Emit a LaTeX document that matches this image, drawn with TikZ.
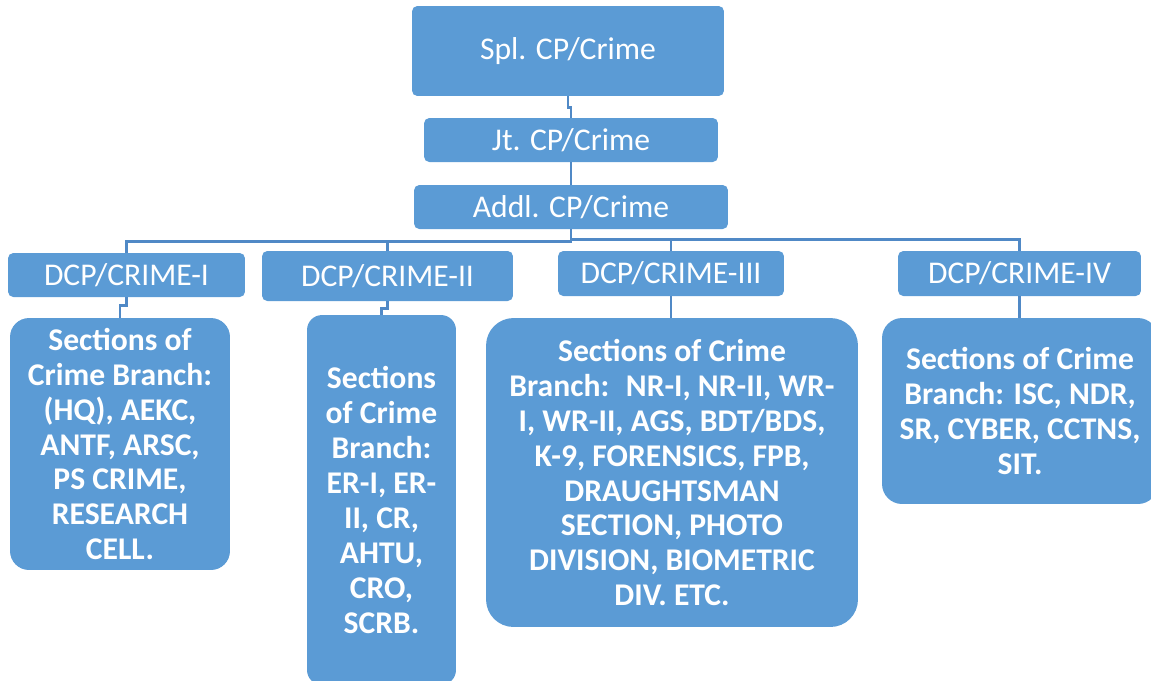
\documentclass[tikz,border=0pt]{standalone}
\usepackage{fontspec}
\setmainfont{Carlito}
\usepackage{tikz}
\usetikzlibrary{positioning,calc}

\definecolor{boxblue}{HTML}{5B9BD5}
\definecolor{lineblue}{HTML}{5089C6}

\begin{document}
\begin{tikzpicture}[x=0.02cm, y=-0.02cm,
  every node/.style={align=center, inner sep=0pt, text=white},
  box/.style={fill=boxblue, rounded corners=3pt,
    font=\fontsize{18}{21.6}\selectfont},
  sec/.style={fill=boxblue, font=\fontsize{18}{19.9}\selectfont\bfseries},
  link/.style={draw=lineblue, line width=1.4pt}]

\useasboundingbox (0,0) rectangle (1151,680);

  % top of the chain
  \node[box, minimum width=6.24cm, minimum height=1.8cm] (spl) at (568,51) {Spl. CP/Crime};
  \node[box, minimum width=5.88cm, minimum height=0.88cm] (jt) at (571,140) {Jt. CP/Crime};
  \node[box, minimum width=6.28cm, minimum height=0.88cm] (addl) at (571,207) {Addl. CP/Crime};

  % DCP row
  \node[box, minimum width=4.74cm, minimum height=0.88cm] (dcpI) at (126.5,275) {DCP/CRIME-I};
  \node[box, minimum width=5.02cm, minimum height=1.0cm] (dcpII) at (387.5,276) {DCP/CRIME-II};
  \node[box, minimum width=4.52cm, minimum height=0.9cm] (dcpIII) at (671,273.5) {DCP/CRIME-III};
  \node[box, minimum width=4.86cm, minimum height=0.9cm] (dcpIV) at (1019.5,273.5) {DCP/CRIME-IV};

  % sections
  \node[sec, rounded corners=0.38cm, minimum width=4.4cm, minimum height=5.04cm] (secI) at (120,444) {
    Sections of\\Crime Branch:\\(HQ), AEKC,\\ANTF, ARSC,\\PS CRIME,\\RESEARCH\\CELL.};
  \node[sec, rounded corners=0.3cm, minimum width=2.98cm, minimum height=7.4cm] (secII) at (381.5,500) {
    Sections\\of Crime\\Branch:\\ER-I, ER-\\II, CR,\\AHTU,\\CRO,\\SCRB.};
  \node[sec, rounded corners=0.55cm, minimum width=7.44cm, minimum height=6.18cm] (secIII) at (672,472.5) {
    Sections of Crime\\Branch:~ NR-I, NR-II, WR-\\I, WR-II, AGS, BDT/BDS,\\K-9, FORENSICS, FPB,\\DRAUGHTSMAN\\SECTION, PHOTO\\DIVISION, BIOMETRIC\\DIV. ETC.};
  \node[sec, rounded corners=0.4cm, minimum width=5.52cm, minimum height=3.72cm] (secIV) at (1020,411) {
    Sections of Crime\\Branch: ISC, NDR,\\SR, CYBER, CCTNS,\\SIT.};

  % connectors
  \draw[link] (spl.south) -- ++(0,11) -| (jt.north);
  \draw[link] (jt.south) -- (addl.north);
  \draw[link] (addl.south) -- ++(0,12) -| (dcpI.north);
  \draw[link] (addl.south) -- ++(0,12) -| (dcpII.north);
  \draw[link] (addl.south) -- ++(0,10) -| (dcpIII.north);
  \draw[link] (addl.south) -- ++(0,10) -| (dcpIV.north);
  \draw[link] (dcpI.south) -- ++(0,8) -| (secI.north);
  \draw[link] (dcpII.south) -- ++(0,7) -| (secII.north);
  \draw[link] (dcpIII.south) -- (dcpIII.south |- secIII.north);
  \draw[link] (dcpIV.south) -- (dcpIV.south |- secIV.north);

\end{tikzpicture}
\end{document}
